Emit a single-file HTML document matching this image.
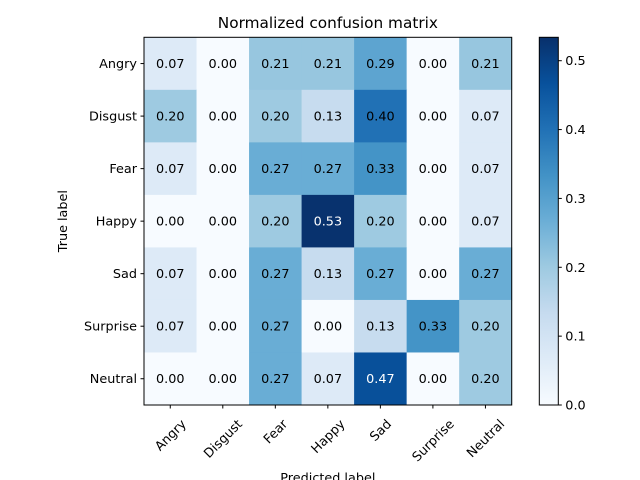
<!DOCTYPE html>
<html><head><meta charset="utf-8"><style>body{margin:0;background:#fff}svg{display:block;font-family:"DejaVu Sans","Liberation Sans",sans-serif}</style></head>
<body>
<svg id="chart" width="640" height="480">
<defs><linearGradient id="blues" x1="0" y1="1" x2="0" y2="0">
<stop offset="0" stop-color="#f7fbff"/><stop offset="0.125" stop-color="#deebf7"/><stop offset="0.25" stop-color="#c6dbef"/><stop offset="0.375" stop-color="#9ecae1"/><stop offset="0.5" stop-color="#6baed6"/><stop offset="0.625" stop-color="#4292c6"/><stop offset="0.75" stop-color="#2171b5"/><stop offset="0.875" stop-color="#08519c"/><stop offset="1" stop-color="#08306b"/></linearGradient></defs>
</svg>
<script>
const rowLabels=["Angry","Disgust","Fear","Happy","Sad","Surprise","Neutral"];
const colLabels=["Angry","Disgust","Fear","Happy","Sad","Surprise","Neutral"];
const row0=[0.07,0.00,0.21,0.21,0.29,0.00,0.21];
const row1=[0.20,0.00,0.20,0.13,0.40,0.00,0.07];
const row2=[0.07,0.00,0.27,0.27,0.33,0.00,0.07];
const row3=[0.00,0.00,0.20,0.53,0.20,0.00,0.07];
const row4=[0.07,0.00,0.27,0.13,0.27,0.00,0.27];
const row5=[0.07,0.00,0.27,0.00,0.13,0.33,0.20];
const row6=[0.00,0.00,0.27,0.07,0.47,0.00,0.20];
const cbTicks=[0,0.1,0.2,0.3,0.4,0.5];
const vmax=0.534;
const rows=[row0,row1,row2,row3,row4,row5,row6];
const NS="http://www.w3.org/2000/svg",svg=document.getElementById('chart');
const L=144,T=37.3,W=367.7,H=367.7,n=7,cw=W/n,ch=H/n,FS='12.8';
const stops=["#f7fbff","#deebf7","#c6dbef","#9ecae1","#6baed6","#4292c6","#2171b5","#08519c","#08306b"].map(h=>[1,3,5].map(i=>parseInt(h.substr(i,2),16)));
function cmap(v){let t=Math.max(0,Math.min(1,v/vmax))*8;let i=Math.min(7,Math.floor(t)),f=t-i;const a=stops[i],b=stops[i+1];return `rgb(${a.map((c,k)=>Math.round(c+(b[k]-c)*f)).join(',')})`;}
function el(tag,attrs,text){const e=document.createElementNS(NS,tag);for(const k in attrs)e.setAttribute(k,attrs[k]);if(text!==undefined)e.textContent=text;svg.appendChild(e);return e;}
const xS=j=>L+j*cw, yS=i=>T+i*ch;
rows.forEach((r,i)=>r.forEach((v,j)=>{
 const c=el('rect',{x:xS(j),y:yS(i),width:cw+0.5,height:ch+0.5,fill:cmap(v)});
 
 
 const t=el('text',{x:xS(j)+cw/2,y:yS(i)+ch/2+4.5,'text-anchor':'middle','font-size':FS,fill:v>0.42?'#fff':'#000'},v.toFixed(2));
 
 
}));
const fr=el('rect',{x:L,y:T,width:W,height:H,fill:'none',stroke:'#000','stroke-width':1});


rowLabels.forEach((s,i)=>{const y=yS(i)+ch/2;el('line',{x1:L-3.5,x2:L,y1:y,y2:y,stroke:'#000'});
 const t=el('text',{x:L-7,y:y+4.5,'text-anchor':'end','font-size':FS},s);
 
 });
colLabels.forEach((s,j)=>{const x=xS(j)+cw/2;el('line',{x1:x,x2:x,y1:T+H,y2:T+H+3.5,stroke:'#000'});
 const t=el('text',{x:0,y:4.5,'text-anchor':'middle','font-size':FS},s);
 
 
 const w=t.getComputedTextLength(),h=13;
 const cy=T+H+12+(w+h)/(2*Math.SQRT2);
 t.setAttribute('transform',`translate(${x} ${cy}) rotate(-45)`);});
const ti=el('text',{x:L+W/2,y:28,'text-anchor':'middle','font-size':'15.3'},'Normalized confusion matrix');


const yl=el('text',{x:0,y:0,'text-anchor':'middle','font-size':FS,transform:`translate(67 ${T+H/2}) rotate(-90)`},'True label');


const xl=el('text',{x:L+W/2,y:482,'text-anchor':'middle','font-size':FS},'Predicted label');


const CX=539.3,CW=19,CB=405,CT=37.3,cy=v=>CB-(v/vmax)*(CB-CT);
const cb=el('rect',{x:CX,y:CT,width:CW,height:CB-CT,fill:'url(#blues)',stroke:'#000','stroke-width':1});


cbTicks.forEach(v=>{const y=cy(v);el('line',{x1:CX+CW,x2:CX+CW+3.5,y1:y,y2:y,stroke:'#000'});
 const t=el('text',{x:CX+CW+7,y:y+4.5,'font-size':FS},v.toFixed(1));
 
 });
</script>
</body></html>
